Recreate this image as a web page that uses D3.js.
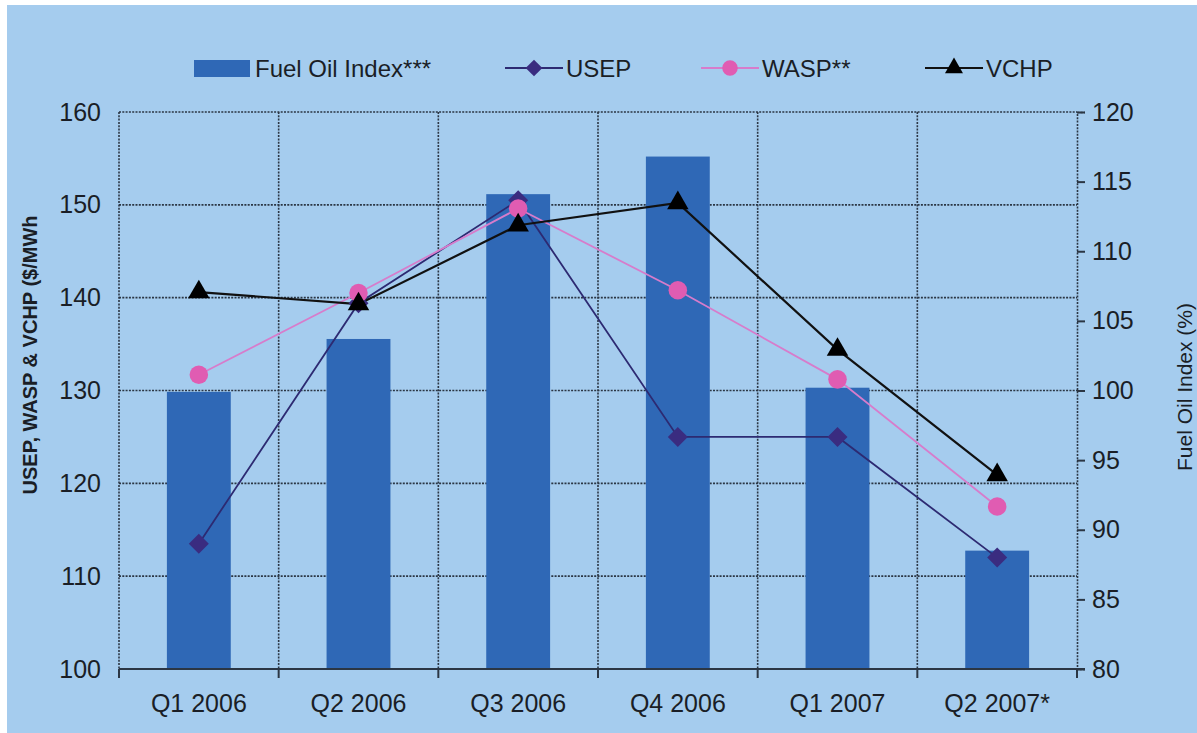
<!DOCTYPE html>
<html>
<head>
<meta charset="utf-8">
<script src="https://cdn.jsdelivr.net/npm/d3@7"></script>
<style>
  html, body { margin: 0; padding: 0; background: #ffffff; }
  svg { display: block; font-family: "Liberation Sans", Arial, sans-serif; }
</style>
</head>
<body>
<div id="chart"></div>
<script>
// Data
const categories = ['Q1 2006', 'Q2 2006', 'Q3 2006', 'Q4 2006', 'Q1 2007', 'Q2 2007*'];
const fuelOilIndex = [99.9, 103.7, 114.1, 116.8, 100.2, 88.5];
const usep = [113.5, 139.4, 150.5, 125.0, 125.0, 112.0];
const wasp = [131.7, 140.5, 149.6, 140.8, 131.2, 117.5];
const vchp = [140.6, 139.3, 147.8, 150.2, 134.4, 120.9];
const leftTicks = [100, 110, 120, 130, 140, 150, 160];
const rightTicks = [80, 85, 90, 95, 100, 105, 110, 115, 120];

const width = 1197;
const height = 733;
const plot = { left: 119, right: 1077, top: 112, bottom: 669 };
const textColor = '#1a1e26';
const tickFont = '25px';

const svg = d3.select('#chart').append('svg')
  .attr('width', width)
  .attr('height', height);

// light blue panel
svg.append('rect')
  .attr('x', 7).attr('y', 5)
  .attr('width', width - 7).attr('height', height - 5)
  .attr('fill', '#a5ccee');

const x = d3.scaleBand()
  .domain(categories)
  .range([plot.left, plot.right]);

const yL = d3.scaleLinear().domain([100, 160]).range([plot.bottom, plot.top]);
const yR = d3.scaleLinear().domain([80, 120]).range([plot.bottom, plot.top]);

const gridColor = '#2b3644';

// Horizontal grid (left axis ticks)
svg.append('g')
  .selectAll('line')
  .data(leftTicks.filter(d => d > 100))
  .enter().append('line')
  .attr('x1', plot.left).attr('x2', plot.right)
  .attr('y1', d => yL(d)).attr('y2', d => yL(d))
  .attr('stroke', gridColor)
  .attr('stroke-width', 1.6)
  .attr('stroke-dasharray', '2,1.3');

// Vertical grid at category boundaries (incl. left edge)
svg.append('g')
  .selectAll('line')
  .data(categories)
  .enter().append('line')
  .attr('x1', d => x(d)).attr('x2', d => x(d))
  .attr('y1', plot.top).attr('y2', plot.bottom)
  .attr('stroke', gridColor)
  .attr('stroke-width', 1.6)
  .attr('stroke-dasharray', '2,1.3');

// Bars
const barW = x.bandwidth() * 0.4;
svg.append('g')
  .selectAll('rect')
  .data(categories)
  .enter().append('rect')
  .attr('x', d => x(d) + (x.bandwidth() - barW) / 2)
  .attr('width', barW)
  .attr('y', (d, i) => yR(fuelOilIndex[i]))
  .attr('height', (d, i) => plot.bottom - yR(fuelOilIndex[i]))
  .attr('fill', '#2f68b6');

// Bottom axis
const xAxis = svg.append('g')
  .attr('transform', `translate(0,${plot.bottom})`)
  .call(d3.axisBottom(x).tickSize(0).tickPadding(25));
xAxis.select('.domain').remove();
xAxis.selectAll('text')
  .attr('fill', textColor)
  .attr('font-size', tickFont)
  .style('font-family', '"Liberation Sans", Arial, sans-serif');

svg.append('line')
  .attr('x1', plot.left).attr('x2', plot.right + 8)
  .attr('y1', plot.bottom).attr('y2', plot.bottom)
  .attr('stroke', '#2b3644').attr('stroke-width', 2);

svg.append('g')
  .selectAll('line')
  .data(categories.concat(['end']))
  .enter().append('line')
  .attr('x1', (d, i) => i < categories.length ? x(d) : plot.right)
  .attr('x2', (d, i) => i < categories.length ? x(d) : plot.right)
  .attr('y1', plot.bottom).attr('y2', plot.bottom + 9)
  .attr('stroke', '#2b3644').attr('stroke-width', 2);

// Left axis labels
const leftAxis = svg.append('g')
  .attr('transform', `translate(${plot.left},0)`)
  .call(d3.axisLeft(yL).tickValues(leftTicks).tickSize(0).tickPadding(18));
leftAxis.select('.domain').remove();
leftAxis.selectAll('text')
  .attr('fill', textColor)
  .attr('font-size', tickFont)
  .style('font-family', '"Liberation Sans", Arial, sans-serif');

// Right axis
const rightAxis = svg.append('g')
  .attr('transform', `translate(${plot.right},0)`)
  .call(d3.axisRight(yR).tickValues(rightTicks).tickSize(8).tickPadding(7));
rightAxis.select('.domain')
  .attr('stroke', gridColor)
  .attr('stroke-width', 1.6)
  .attr('stroke-dasharray', '2,1.3');
rightAxis.selectAll('.tick line').attr('stroke', '#2b3644').attr('stroke-width', 2);
rightAxis.selectAll('text')
  .attr('fill', textColor)
  .attr('font-size', tickFont)
  .style('font-family', '"Liberation Sans", Arial, sans-serif');

// Axis titles
svg.append('text')
  .attr('transform', 'translate(37,355) rotate(-90)')
  .attr('text-anchor', 'middle')
  .attr('fill', textColor)
  .attr('font-size', '20px')
  .attr('font-weight', 'bold')
  .text('USEP, WASP & VCHP ($/MWh');

svg.append('text')
  .attr('transform', 'translate(1192,387) rotate(-90)')
  .attr('text-anchor', 'middle')
  .attr('fill', textColor)
  .attr('font-size', '21px')
  .text('Fuel Oil Index (%)');

// Line series
const series = [
  { name: 'USEP', values: usep, line: '#2d2a72', marker: '#3a2c80', width: 1.8,
    symbol: d3.symbolSquare, size: 200, rotate: 45 },
  { name: 'WASP**', values: wasp, line: '#d77ccb', marker: '#e05cb2', width: 1.8,
    symbol: d3.symbolCircle, size: 270, rotate: 0 },
  { name: 'VCHP', values: vchp, line: '#111111', marker: '#000000', width: 2.2,
    symbol: d3.symbolTriangle, size: 200, rotate: 0 }
];

const cx = d => x(d) + x.bandwidth() / 2;

series.forEach(s => {
  const line = d3.line()
    .x((d, i) => cx(categories[i]))
    .y(d => yL(d));
  svg.append('path')
    .datum(s.values)
    .attr('d', line)
    .attr('fill', 'none')
    .attr('stroke', s.line)
    .attr('stroke-width', s.width);
});

series.forEach(s => {
  svg.append('g')
    .selectAll('path')
    .data(s.values)
    .enter().append('path')
    .attr('d', d3.symbol().type(s.symbol).size(s.size))
    .attr('transform', (d, i) => `translate(${cx(categories[i])},${yL(d)}) rotate(${s.rotate})`)
    .attr('fill', s.marker);
});

// Legend
const legendY = 68;
const legend = svg.append('g');
legend.append('rect')
  .attr('x', 194).attr('y', legendY - 8)
  .attr('width', 56).attr('height', 17)
  .attr('fill', '#2f68b6');
legend.append('text')
  .attr('x', 255).attr('y', legendY + 9)
  .attr('fill', textColor)
  .attr('font-size', '24px')
  .text('Fuel Oil Index***');

const legendItems = [
  { s: series[0], x0: 505 },
  { s: series[1], x0: 701 },
  { s: series[2], x0: 925 }
];
legendItems.forEach(item => {
  const s = item.s;
  legend.append('line')
    .attr('x1', item.x0).attr('x2', item.x0 + 58)
    .attr('y1', legendY).attr('y2', legendY)
    .attr('stroke', s.line).attr('stroke-width', s.width);
  legend.append('path')
    .attr('d', d3.symbol().type(s.symbol).size(s.size * 0.7))
    .attr('transform', `translate(${item.x0 + 29},${legendY}) rotate(${s.rotate})`)
    .attr('fill', s.marker);
  legend.append('text')
    .attr('x', item.x0 + 61).attr('y', legendY + 9)
    .attr('fill', textColor)
    .attr('font-size', '24px')
    .text(s.name);
});
</script>
</body>
</html>
